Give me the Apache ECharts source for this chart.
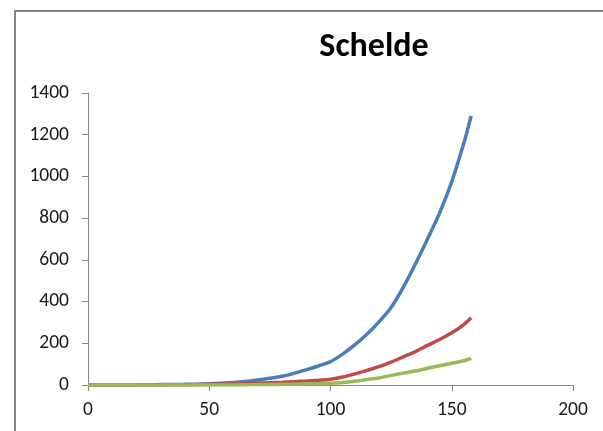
<!DOCTYPE html>
<html>
<head>
<meta charset="utf-8">
<script src="https://cdn.jsdelivr.net/npm/echarts@6/dist/echarts.min.js"></script>
<style>
html,body{margin:0;padding:0;background:#fff;}
#chart{width:603px;height:431px;}
</style>
</head>
<body>
<div id="chart"></div>
<script>
const chartTitle = 'Schelde';
const xValues = [0,5,10,15,20,25,30,35,40,45,50,55,60,65,70,75,80,85,90,95,100,105,110,115,120,125,130,135,140,145,150,155,158];
const blueValues = [0,0,0,0,1,1,2,2,3,4,6,9,12,17,24,32,42,56,73,91,112,148,192,243,303,372,468,580,700,825,975,1160,1290];
const redValues = [0,0,0,0,0,0,0,1,1,2,3,4,5,7,9,11,13,16,19,23,28,38,53,70,88,110,135,160,190,218,250,290,322];
const greenValues = [0,0,0,0,0,0,0,0,0,0,0,0,0,1,2,2,3,4,5,6,8,12,18,26,34,46,57,67,80,92,104,116,128];
const seriesColors = ['#4A7EBB', '#BE4B48', '#98B954'];

const FONT = 'Carlito, Lato, sans-serif';
function pairs(vals){ return xValues.map((x,i)=>[x, vals[i]]); }
const plain = v => String(v);

const chart = echarts.init(document.getElementById('chart'));
chart.setOption({
  backgroundColor: '#fff',
  animation: false,
  title: {
    text: chartTitle,
    left: 374, top: 30, padding: 0,
    textAlign: 'center',
    textStyle: { fontFamily: FONT, fontWeight: 'bold', fontSize: 34, color: '#000' }
  },
  graphic: [{
    type: 'rect', silent: true,
    shape: { x: 15, y: 11, width: 700, height: 500 },
    style: { fill: 'none', stroke: '#868686', lineWidth: 2 }
  }],
  grid: { left: 88, right: 30, top: 93, bottom: 46, containLabel: false },
  xAxis: {
    type: 'value', min: 0, max: 200, interval: 50,
    axisLine: { show: true, lineStyle: { color: '#868686', width: 1 } },
    axisTick: { show: true, length: 6, lineStyle: { color: '#868686' } },
    splitLine: { show: false },
    axisLabel: { margin: 15, formatter: plain, fontFamily: FONT, fontSize: 19.5, color: '#1a1a1a' }
  },
  yAxis: {
    type: 'value', min: 0, max: 1400, interval: 200,
    axisLine: { show: true, lineStyle: { color: '#868686', width: 1 } },
    axisTick: { show: true, length: 6, lineStyle: { color: '#868686' } },
    splitLine: { show: false },
    axisLabel: { margin: 19, formatter: plain, fontFamily: FONT, fontSize: 19.5, color: '#1a1a1a' }
  },
  series: [
    { type: 'line', data: pairs(blueValues), smooth: 0.3, showSymbol: false, symbol: 'none', lineStyle: { color: seriesColors[0], width: 3.5 }, itemStyle: { color: seriesColors[0] } },
    { type: 'line', data: pairs(redValues), smooth: 0.3, showSymbol: false, symbol: 'none', lineStyle: { color: seriesColors[1], width: 3.5 }, itemStyle: { color: seriesColors[1] } },
    { type: 'line', data: pairs(greenValues), smooth: 0.3, showSymbol: false, symbol: 'none', lineStyle: { color: seriesColors[2], width: 3.5 }, itemStyle: { color: seriesColors[2] } }
  ]
});
</script>
</body>
</html>
